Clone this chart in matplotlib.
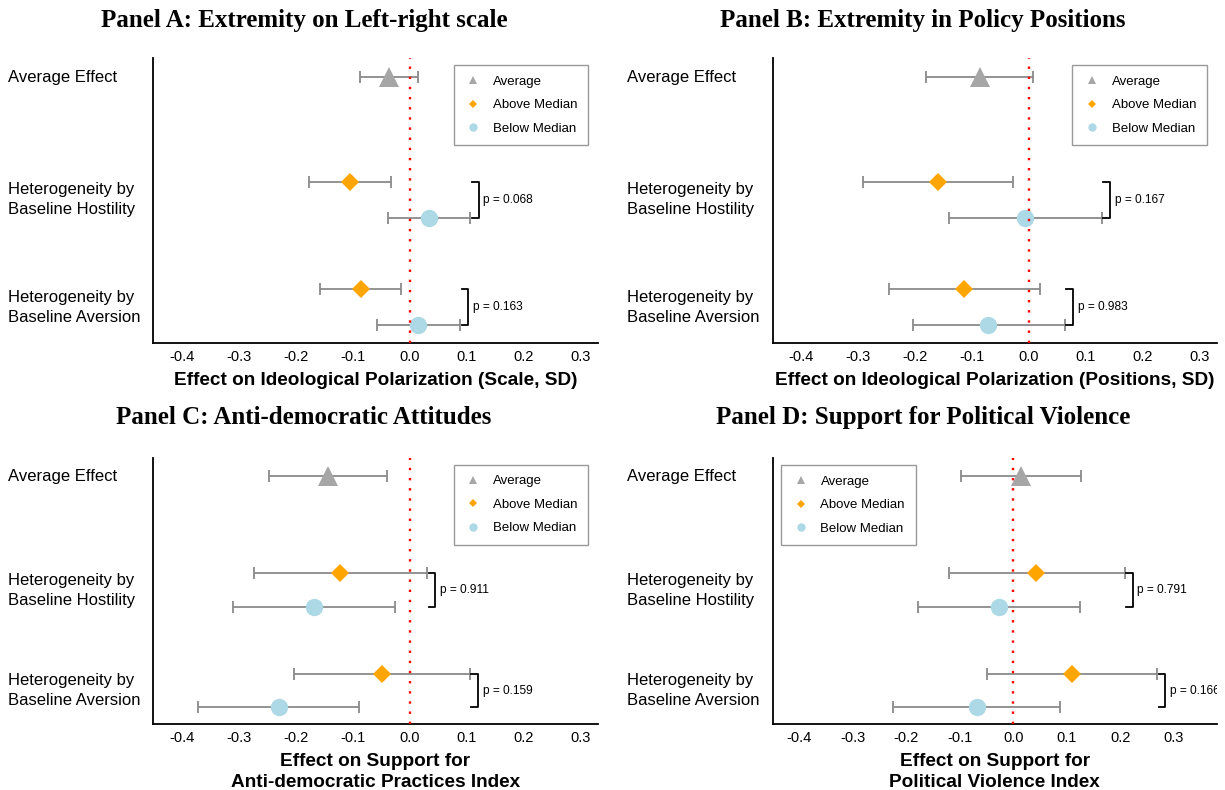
import matplotlib

matplotlib.use("Agg")
import matplotlib.pyplot as plt
from matplotlib.lines import Line2D

plt.rcParams["font.family"] = ["Liberation Sans", "DejaVu Sans"]

# rows: average, above/below median (hostility), above/below median (aversion)
row_labels = ["Average Effect", "Heterogeneity by\nBaseline Hostility", "Heterogeneity by\nBaseline Aversion"]
x_ticks = [-0.4, -0.3, -0.2, -0.1, 0.0, 0.1, 0.2, 0.3]

a_est = [-0.037, -0.105, 0.034, -0.086, 0.015]
a_lo = [-0.088, -0.177, -0.038, -0.158, -0.057]
a_hi = [0.015, -0.032, 0.106, -0.015, 0.088]
a_p = [0.068, 0.163]

b_est = [-0.086, -0.160, -0.007, -0.113, -0.071]
b_lo = [-0.181, -0.291, -0.140, -0.246, -0.204]
b_hi = [0.007, -0.028, 0.128, 0.020, 0.063]
b_p = [0.167, 0.983]

c_est = [-0.143, -0.122, -0.167, -0.048, -0.230]
c_lo = [-0.247, -0.273, -0.310, -0.202, -0.371]
c_hi = [-0.039, 0.030, -0.025, 0.105, -0.089]
c_p = [0.911, 0.159]

d_est = [0.014, 0.043, -0.027, 0.110, -0.068]
d_lo = [-0.097, -0.121, -0.179, -0.049, -0.224]
d_hi = [0.126, 0.208, 0.125, 0.269, 0.087]
d_p = [0.791, 0.166]

STYLE = {
    "avg": "#a6a6a6",
    "above": "#ffa500",
    "below": "#add8e6",
    "err": "#8a8a8a",
    "zero": "#ff0000",
}
ROW_Y = [0.0, 0.97, 1.305, 1.97, 2.305]
MARKERS = [("^", "avg", 14), ("D", "above", 9.5), ("o", "below", 12.5), ("D", "above", 9.5), ("o", "below", 12.5)]


def draw_panel(ax, est, lo, hi, pvals, xlabel, xlim, legend_loc):
    for i, y in enumerate(ROW_Y):
        ax.errorbar(
            est[i], y,
            xerr=[[est[i] - lo[i]], [hi[i] - est[i]]],
            fmt="none", ecolor=STYLE["err"], elinewidth=1.3, capsize=4, capthick=1.3, zorder=2,
        )
        marker, color, size = MARKERS[i]
        ax.plot(est[i], y, marker=marker, color=STYLE[color], markersize=size,
                markeredgewidth=0, linestyle="none", zorder=3)

    # p-value brackets for each heterogeneity pair (clipped to the panel like the original)
    arm = 0.012
    for k, (i, j) in enumerate([(1, 2), (3, 4)]):
        xb = max(hi[i], hi[j]) + 0.015
        ax.plot([xb - arm, xb, xb, xb - arm], [ROW_Y[i], ROW_Y[i], ROW_Y[j], ROW_Y[j]],
                color="black", linewidth=1.3, zorder=3)
        ax.text(xb + 0.008, (ROW_Y[i] + ROW_Y[j]) / 2, f"p = {pvals[k]:.3f}",
                fontsize=8.6, va="center", ha="left", clip_on=True)

    ax.axvline(0, color=STYLE["zero"], linewidth=1.7, linestyle=(0, (1, 3.3)), zorder=4)

    ax.set_xlim(*xlim)
    ax.set_ylim(2.47, -0.18)
    ax.set_xticks(x_ticks)
    ax.set_xticklabels([f"{t:.1f}" for t in x_ticks], fontsize=10.5)
    ax.set_yticks([ROW_Y[0], (ROW_Y[1] + ROW_Y[2]) / 2, (ROW_Y[3] + ROW_Y[4]) / 2])
    ax.set_yticklabels(row_labels, fontsize=12, linespacing=1.38)
    for lab in ax.get_yticklabels():
        lab.set_horizontalalignment("left")
        lab.set_verticalalignment("center")
    ax.tick_params(axis="y", length=0, pad=104.5)
    ax.tick_params(axis="x", length=0, pad=5)
    ax.set_xlabel(xlabel, fontsize=13.7, fontweight="bold", labelpad=6, linespacing=1.25)

    for side in ("top", "right"):
        ax.spines[side].set_visible(False)
    for side in ("left", "bottom"):
        ax.spines[side].set_linewidth(1.3)
        ax.spines[side].set_color("black")

    handles = [
        Line2D([], [], marker="^", color=STYLE["avg"], linestyle="none", markersize=6, markeredgewidth=0),
        Line2D([], [], marker="D", color=STYLE["above"], linestyle="none", markersize=4.5, markeredgewidth=0),
        Line2D([], [], marker="o", color=STYLE["below"], linestyle="none", markersize=6, markeredgewidth=0),
    ]
    if legend_loc == "right":
        loc, anchor = "upper right", (1 - 9.7 / 445, 1 - 7 / 285)
    else:
        loc, anchor = "upper left", (8.4 / 444, 1 - 7 / 266)
    leg = ax.legend(
        handles, ["Average", "Above Median", "Below Median"],
        loc=loc, bbox_to_anchor=anchor, borderaxespad=0, fontsize=9.5,
        frameon=True, fancybox=False, edgecolor="#999999", framealpha=1,
        borderpad=0.8, labelspacing=0.85, handlelength=1.4, handletextpad=0.8,
    )
    leg.get_frame().set_linewidth(1.0)


fig = plt.figure(figsize=(12.25, 7.9), dpi=100)
W, H = 1225, 790

def px_axes(left, top, right, bottom):
    return fig.add_axes([left / W, 1 - bottom / H, (right - left) / W, (bottom - top) / H])

ax_a = px_axes(153, 58, 598, 343)
ax_b = px_axes(772.5, 58, 1216.7, 343)
ax_c = px_axes(153, 458, 598, 724)
ax_d = px_axes(772.5, 458, 1216.7, 724)

draw_panel(ax_a, a_est, a_lo, a_hi, a_p, "Effect on Ideological Polarization (Scale, SD)", (-0.45, 0.33), "right")
draw_panel(ax_b, b_est, b_lo, b_hi, b_p, "Effect on Ideological Polarization (Positions, SD)", (-0.45, 0.33), "right")
draw_panel(ax_c, c_est, c_lo, c_hi, c_p, "Effect on Support for\nAnti-democratic Practices Index", (-0.45, 0.33), "right")
draw_panel(ax_d, d_est, d_lo, d_hi, d_p, "Effect on Support for\nPolitical Violence Index", (-0.45, 0.38), "left")

title_kw = dict(fontsize=18, fontweight="bold", family=["Liberation Serif", "DejaVu Serif"],
                ha="center", va="center")
fig.text(304 / W, 1 - 21 / H, "Panel A: Extremity on Left-right scale", **title_kw)
fig.text(922.7 / W, 1 - 21 / H, "Panel B: Extremity in Policy Positions", **title_kw)
fig.text(304 / W, 1 - 417 / H, "Panel C: Anti-democratic Attitudes", **title_kw)
fig.text(922.7 / W, 1 - 417 / H, "Panel D: Support for Political Violence", **title_kw)

fig.savefig("out.png", dpi=100, facecolor="white")
